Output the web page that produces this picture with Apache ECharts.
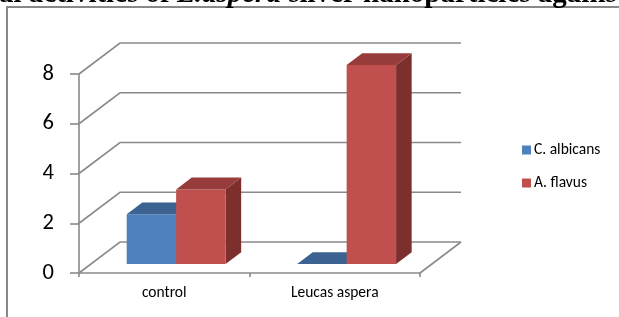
<!DOCTYPE html>
<html>
<head>
<meta charset="utf-8">
<script src="https://cdn.jsdelivr.net/npm/echarts@6/dist/echarts.min.js"></script>
<style>
  html, body { margin: 0; padding: 0; background: #fff; }
  #main { width: 619px; height: 317px; }
</style>
</head>
<body>
<div id="main"></div>
<script>
const categories = ["control", "Leucas aspera"];
const albicans = [2, 0];
const flavus = [3, 8];
const yTicks = [0, 2, 4, 6, 8];

// fake 3d: offset of the back wall from the front plane, in px
const DX = 41, DY = 31;
const F0 = 0.29, F1 = 0.67; // bar front / back as fraction of depth
const BAR_W = 0.29;         // bar width as fraction of category band
const GRID_COLOR = "#8a8a8a";
const FONT = "Carlito, Lato, sans-serif";
const TITLE_PX = 29;

const chart = echarts.init(document.getElementById("main"));

// measure the cut-off head of the title so the visible slice lines up
const ctx = document.createElement("canvas").getContext("2d");
ctx.font = "bold " + TITLE_PX + "px 'Liberation Serif'";
const headW = ctx.measureText("Antifung").width;

function gridRender(params, api) {
  const cs = params.coordSys;
  const x0 = cs.x, x1 = cs.x + cs.width;
  const y = api.coord([0, api.value(1)])[1];
  const children = [{
    type: "polyline",
    shape: { points: [[x0, y], [x0 + DX, y - DY], [x1 + DX, y - DY]] },
    style: { stroke: GRID_COLOR, lineWidth: 1.6, fill: null }
  }];
  if (api.value(1) === 0) {
    children.push({
      type: "line",
      shape: { x1: x1, y1: y, x2: x1 + DX, y2: y - DY },
      style: { stroke: GRID_COLOR, lineWidth: 1.6 }
    });
  }
  return { type: "group", children: children };
}

function barRender(offset, front, top, side) {
  return function (params, api) {
    const c = api.value(0), v = api.value(1);
    const base = api.coord([c, 0]);
    const head = api.coord([c, v]);
    const w = api.size([1, 0])[0] * BAR_W;
    const xl = base[0] + offset * w, xr = xl + w;
    const fx = F0 * DX, fy = F0 * DY, bx = F1 * DX, by = F1 * DY;
    const ftl = [xl + fx, head[1] - fy], ftr = [xr + fx, head[1] - fy];
    const fbl = [xl + fx, base[1] - fy], fbr = [xr + fx, base[1] - fy];
    const btl = [xl + bx, head[1] - by], btr = [xr + bx, head[1] - by];
    const bbr = [xr + bx, base[1] - by];
    return {
      type: "group",
      children: [
        { type: "polygon", shape: { points: [ftr, btr, bbr, fbr] }, style: { fill: side } },
        { type: "polygon", shape: { points: [ftl, ftr, fbr, fbl] }, style: { fill: front } },
        { type: "polygon", shape: { points: [ftl, ftr, btr, btl] }, style: { fill: top } }
      ]
    };
  };
}

chart.setOption({
  animation: false,
  grid: { left: 79, top: 74, width: 341, height: 199 },
  legend: {
    data: ["C. albicans", "A. flavus"],
    orient: "vertical",
    left: 517,
    top: 137,
    itemWidth: 9,
    itemHeight: 9,
    itemGap: 17,
    icon: "rect",
    textStyle: { fontFamily: FONT, fontSize: 15.5, color: "#000", padding: [0, 0, 0, -2] }
  },
  xAxis: {
    type: "category",
    data: categories,
    axisLine: { lineStyle: { color: GRID_COLOR, width: 1.6 } },
    axisTick: { show: true, length: 4, lineStyle: { color: GRID_COLOR, width: 1.6 } },
    axisLabel: { fontFamily: FONT, fontSize: 15.5, color: "#000", margin: 12 }
  },
  yAxis: {
    type: "value",
    min: 0,
    max: 8,
    interval: 2,
    splitLine: { show: false },
    axisLine: { show: true, lineStyle: { color: GRID_COLOR, width: 1.6 } },
    axisTick: { show: true, length: 9, lineStyle: { color: GRID_COLOR, width: 1.6 } },
    axisLabel: { fontFamily: FONT, fontSize: 22.5, color: "#000", margin: 25 }
  },
  series: [
    {
      name: "walls",
      type: "custom",
      silent: true,
      clip: false,
      z: 1,
      data: yTicks.map(t => [0, t]),
      renderItem: gridRender
    },
    {
      name: "C. albicans",
      type: "custom",
      clip: false,
      z: 3,
      itemStyle: { color: "#4f81bd" },
      data: albicans.map((v, i) => [i, v]),
      renderItem: barRender(-1, "#4f81bd", "#3b6290", "#355a86")
    },
    {
      name: "A. flavus",
      type: "custom",
      clip: false,
      z: 4,
      itemStyle: { color: "#c0504d" },
      data: flavus.map((v, i) => [i, v]),
      renderItem: barRender(0, "#c0504d", "#973c3a", "#7d2f2d")
    }
  ],
  graphic: [
    {
      type: "polyline",
      shape: { points: [[7, 317], [7, 7], [619, 7]] },
      style: { stroke: "#888", lineWidth: 2, fill: null },
      silent: true
    },
    {
      type: "text",
      x: -headW - 1,
      y: -5.8,
      style: {
        text: "Antifungal activities of {i|L.aspera} silver nanoparticles against",
        font: "bold " + TITLE_PX + "px 'Liberation Serif'",
        fill: "#000",
        verticalAlign: "middle",
        rich: { i: { font: "italic bold " + TITLE_PX + "px 'Liberation Serif'", fill: "#000" } }
      },
      silent: true
    }
  ]
});
</script>
</body>
</html>
